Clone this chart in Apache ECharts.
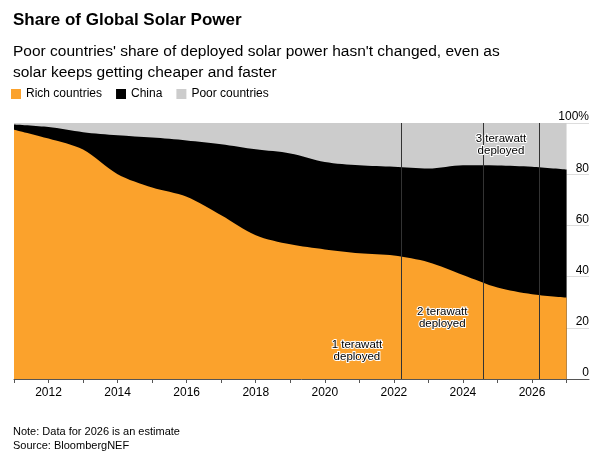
<!DOCTYPE html>
<html>
<head>
<meta charset="utf-8">
<script src="https://cdn.jsdelivr.net/npm/echarts@6/dist/echarts.min.js"></script>
<style>
* { margin: 0; padding: 0; }
body { background: #fff; }
#main { width: 616px; height: 458px; }
</style>
</head>
<body>
<div id="main"></div>
<script>
let years = [2011, 2012, 2013, 2014, 2015, 2016, 2017, 2018, 2019, 2020, 2021, 2022, 2023, 2024, 2025, 2026, 2027];
// 富国份额
let richList = [97.4, 93.9, 89.6, 80, 74.8, 71.2, 64, 56.2, 52.6, 50.6, 49.1, 48.2, 45.6, 40.6, 35.7, 33.1, 31.8];
// 富国+中国 累计
let topList = [99.4, 98.4, 96.4, 95.2, 94.3, 93.2, 91.7, 89.7, 88.1, 84.8, 83.5, 82.9, 82.2, 83.5, 83.4, 82.9, 81.8];
let milestones = [2022.2, 2024.6, 2026.2];
let notes = [
	{ text: '1 terawatt\ndeployed', x: 2020.93, y: 10.9 },
	{ text: '2 terawatt\ndeployed', x: 2023.4, y: 23.8 },
	{ text: '3 terawatt\ndeployed', x: 2025.1, y: 91.6 }
];

let font = 'Liberation Sans';
let myChart = echarts.init(document.getElementById('main'));

// 三层面积叠放（累计值），灰色在最底
function areaSeries(name, list, color, z) {
	return {
		name: name,
		type: 'line',
		z: z,
		smooth: 0.3,
		showSymbol: false,
		lineStyle: { width: 0 },
		itemStyle: { color: color },
		areaStyle: { color: color, opacity: 1 },
		data: list.map((v, i) => [years[i], v])
	};
}

let poor = areaSeries('Poor countries', years.map(() => 100), '#CCCCCC', 1);
let china = areaSeries('China', topList, '#000000', 2);
let rich = areaSeries('Rich countries', richList, '#FBA22C', 3);
rich.markLine = {
	symbol: 'none',
	silent: true,
	label: { show: false },
	lineStyle: { color: '#333', width: 1, type: 'solid' },
	data: milestones.map(m => [{ coord: [m, 0] }, { coord: [m, 100] }])
};
rich.markPoint = {
	symbol: 'rect',
	symbolSize: 1,
	itemStyle: { color: 'rgba(0,0,0,0)' },
	silent: true,
	label: {
		show: true,
		position: 'inside',
		color: '#000',
		fontFamily: font,
		fontSize: 11.5,
		lineHeight: 12,
		textBorderColor: '#fff',
		textBorderWidth: 2,
		formatter: p => p.name
	},
	data: notes.map(n => ({ name: n.text, coord: [n.x, n.y] }))
};

let option = {
	backgroundColor: '#fff',
	animation: false,
	title: [{
		text: 'Share of Global Solar Power',
		left: 8, top: 7,
		textStyle: { fontFamily: font, fontSize: 17, fontWeight: 'bold', color: '#000' }
	}, {
		text: "Poor countries' share of deployed solar power hasn't changed, even as\nsolar keeps getting cheaper and faster",
		left: 8, top: 36,
		textStyle: { fontFamily: font, fontSize: 15.5, fontWeight: 'normal', color: '#000', lineHeight: 21 }
	}, {
		text: 'Note: Data for 2026 is an estimate\nSource: BloombergNEF',
		left: 8, top: 420,
		textStyle: { fontFamily: font, fontSize: 11, fontWeight: 'normal', color: '#000', lineHeight: 14 }
	}],
	legend: {
		left: 6, top: 83,
		icon: 'rect', itemWidth: 10, itemHeight: 10, itemGap: 14,
		data: ['Rich countries', 'China', 'Poor countries'],
		textStyle: { fontFamily: font, fontSize: 12, color: '#000' }
	},
	grid: { left: 14, right: 27, top: 123, bottom: 79 },
	xAxis: {
		type: 'value',
		min: 2011, max: 2027.65, interval: 1,
		splitLine: { show: false },
		axisLine: { lineStyle: { color: '#555' } },
		axisTick: { lineStyle: { color: '#555' }, length: 4 },
		axisLabel: {
			fontFamily: font, fontSize: 12, color: '#000', margin: 8,
			showMaxLabel: false,
			formatter: v => (v % 2 === 0 ? String(v) : '')
		}
	},
	yAxis: {
		type: 'value', position: 'right',
		min: 0, max: 100, interval: 20,
		axisLine: { show: false },
		axisTick: { show: false },
		splitLine: { lineStyle: { color: '#ddd' } },
		axisLabel: {
			inside: true, align: 'right', verticalAlign: 'bottom', margin: 0,
			fontFamily: font, fontSize: 12, color: '#000',
			formatter: v => (v === 100 ? '{p|100%}' : String(v)),
			rich: { p: { fontFamily: font, fontSize: 12, color: '#000', padding: [0, 0, 0, 0], align: 'left' } }
		}
	},
	series: [poor, china, rich]
};
myChart.setOption(option);
</script>
</body>
</html>
